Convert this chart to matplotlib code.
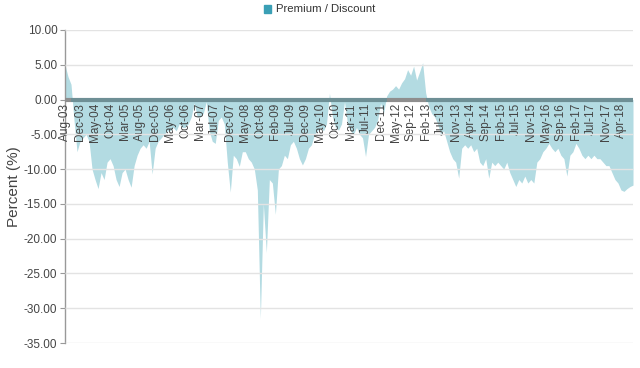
import matplotlib
matplotlib.use("Agg")
import matplotlib.pyplot as plt
import numpy as np

# ---- data ----
tick_labels = ["Aug-03", "Dec-03", "May-04", "Oct-04", "Mar-05", "Aug-05", "Dec-05",
               "May-06", "Oct-06", "Mar-07", "Jul-07", "Dec-07", "May-08", "Oct-08",
               "Feb-09", "Jul-09", "Dec-09", "May-10", "Oct-10", "Mar-11", "Jul-11",
               "Dec-11", "May-12", "Sep-12", "Feb-13", "Jul-13", "Nov-13", "Apr-14",
               "Sep-14", "Feb-15", "Jul-15", "Nov-15", "May-16", "Sep-16", "Feb-17",
               "Jul-17", "Nov-17", "Apr-18"]
label_every = 5

premium_discount = [
    5.0, 3.3, 2.2, -3.0, -7.5,
    -6.0, -5.5, -5.0, -6.0, -10.0,
    -11.5, -12.8, -10.5, -11.5, -9.0,
    -8.5, -9.5, -11.5, -12.5, -10.5,
    -10.0, -11.5, -12.6, -9.5, -8.0,
    -7.0, -6.5, -7.0, -6.0, -10.7,
    -7.0, -6.0, -5.5, -5.0, -4.5,
    -4.5, -4.0, -4.5, -3.5, -4.0,
    -4.0, -3.5, -2.5, -0.5, -2.5,
    -2.5, -2.0, -0.3, -4.5, -6.0,
    -6.3, -3.0, -2.5, -3.5, -9.0,
    -13.3, -8.0, -8.5, -9.6, -7.5,
    -7.5, -8.5, -9.0, -10.0, -13.0,
    -31.5, -15.0, -22.0, -11.5, -12.0,
    -16.5, -10.0, -9.5, -8.0, -8.5,
    -6.5, -6.0, -7.0, -8.5, -9.4,
    -8.5, -7.0, -6.5, -5.0, -4.5,
    -4.0, -4.5, -3.5, 0.9, -2.5,
    -4.0, -4.4, -3.5, -0.3, -3.5,
    -4.5, -5.0, -4.0, -5.0, -5.5,
    -8.2, -5.0, -4.5, -4.0, -3.0,
    -0.5, -2.0, 0.5, 1.2, 1.5,
    2.0, 1.5, 2.4, 3.0, 4.3,
    3.5, 4.8, 2.8, 4.0, 5.3,
    1.0, -1.0, -2.0, -2.5, -3.5,
    -5.0, -4.5, -6.0, -7.5, -8.5,
    -9.0, -11.3, -7.0, -6.5, -7.0,
    -6.5, -7.5, -7.0, -9.0, -9.5,
    -8.5, -11.3, -9.0, -9.5, -9.0,
    -9.5, -10.0, -9.0, -10.5, -11.5,
    -12.5, -11.5, -12.0, -11.0, -12.0,
    -11.5, -12.0, -9.0, -8.5, -7.5,
    -7.0, -6.3, -7.0, -7.5, -7.0,
    -8.0, -8.5, -11.0, -8.0, -7.5,
    -6.3, -7.0, -8.0, -8.5, -8.0,
    -8.5, -8.0, -8.5, -8.5, -9.0,
    -9.5, -9.5, -10.5, -11.5, -12.0,
    -13.0, -13.2, -12.8, -12.5, -12.3,
]
y_ticks = [10, 5, 0, -5, -10, -15, -20, -25, -30, -35]

# ---- styling ----
FILL = "#b3dbe2"
LEGEND_SQ = "#3a9fb5"
ZERO_NEG = "#6e8f95"
ZERO_POS = "#8e8e8e"
TEXT = "#444444"

plt.rcParams["font.family"] = ["Liberation Sans", "DejaVu Sans"]

fig = plt.figure(figsize=(6.4, 3.68), dpi=100)
ax = fig.add_axes([65 / 640, 1 - 343 / 368, (633 - 65) / 640, (343 - 30) / 368])

vals = np.array(premium_discount, dtype=float)
x = np.arange(len(vals))

ax.fill_between(x, 0, vals, color=FILL, linewidth=0, zorder=1)

# thick zero line, coloured by sign of the series
for i in range(len(vals) - 1):
    c = ZERO_NEG if (vals[i] < 0 or vals[i + 1] < 0) else ZERO_POS
    ax.plot([x[i], x[i + 1]], [0, 0], color=c, lw=3.0, solid_capstyle="butt", zorder=3)

ax.spines["bottom"].set_position(("data", 0))
ax.spines["bottom"].set_visible(False)
ax.spines["top"].set_visible(False)
ax.spines["right"].set_visible(False)
ax.spines["left"].set_color("#999999")
ax.spines["left"].set_linewidth(1.0)

ax.set_xlim(0, len(vals) - 1)
ax.set_ylim(-35, 10)

ax.set_yticks(y_ticks)
ax.set_yticklabels([f"{v:.2f}" for v in y_ticks])
ax.yaxis.grid(True, color="#e3e3e3", lw=1.0)
ax.set_axisbelow(False)

tick_pos = x[::label_every][:len(tick_labels)]
ax.set_xticks(tick_pos)
ax.set_xticklabels(tick_labels)
for lbl in ax.get_xticklabels():
    lbl.set_rotation(90)
    lbl.set_va("top")
    lbl.set_ha("center")

ax.tick_params(axis="x", length=0, pad=2.5, labelsize=8.5, labelcolor=TEXT)
ax.tick_params(axis="y", length=3.5, width=0.8, color="#999999", pad=2,
               labelsize=8.5, labelcolor=TEXT)

ax.set_ylabel("Percent (%)", fontsize=11, color=TEXT)
ax.yaxis.set_label_coords(-0.078, 0.5)

# legend
fig.patches.append(matplotlib.patches.Rectangle((264 / 640, 1 - 12.5 / 368), 7 / 640, 7 / 368,
                                                transform=fig.transFigure, color=LEGEND_SQ))
fig.text(276 / 640, 1 - 9 / 368, "Premium / Discount", fontsize=8.2, color="#333333",
         va="center", ha="left")

fig.savefig("out.png", dpi=100)
